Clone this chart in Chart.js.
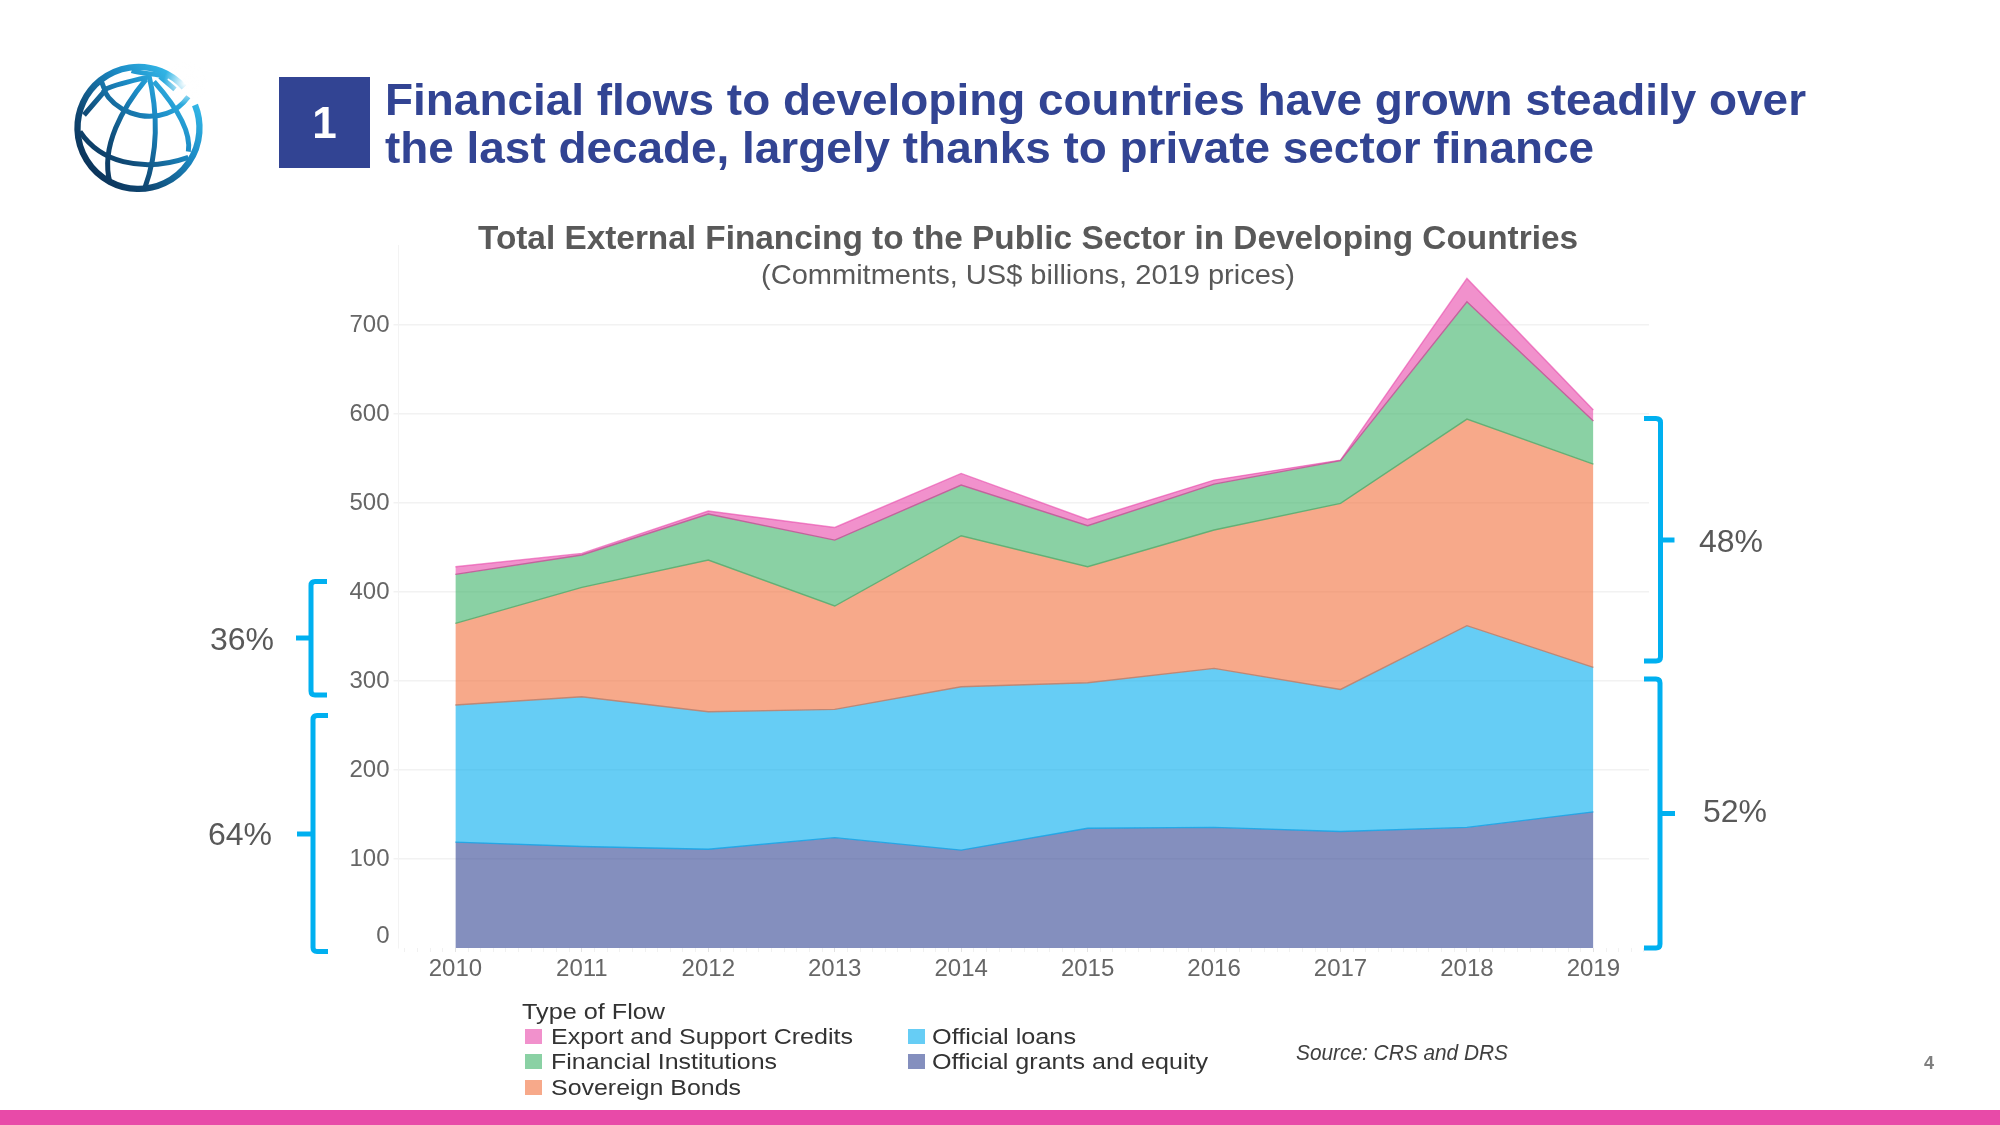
<!DOCTYPE html>
<html>
<head>
<meta charset="utf-8">
<title>Total External Financing to the Public Sector in Developing Countries</title>
<script src="https://cdn.jsdelivr.net/npm/chart.js@4"></script>
<style>
html,body{margin:0;padding:0;background:#fff;width:2000px;height:1125px;overflow:hidden;font-family:"Liberation Sans",Arial,sans-serif}
#stage{position:relative;width:2000px;height:1125px;overflow:hidden}
canvas{position:absolute;left:0;top:0}
.t{position:absolute;white-space:nowrap;line-height:1}
.sw{position:absolute}
svg{position:absolute;left:0;top:0}
#bar{position:absolute;left:0;top:1109.5px;width:2000px;height:15.5px;background:#E84AA8}
#box{position:absolute;left:279px;top:77px;width:91px;height:91px;background:#324493}
</style>
</head>
<body>
<div id="stage">
<canvas id="c" width="2000" height="1125"></canvas>
<div id="bar"></div>
<div id="box"></div>
<svg width="2000" height="1125" viewBox="0 0 2000 1125" fill="none">
  <defs>
    <linearGradient id="g" gradientUnits="userSpaceOnUse" x1="70" y1="390" x2="410" y2="90">
      <stop offset="0" stop-color="#0a2c50"/>
      <stop offset="0.3" stop-color="#0f4a76"/>
      <stop offset="0.65" stop-color="#1c8cc6"/>
      <stop offset="1" stop-color="#3cc8f4"/>
    </linearGradient>
    <radialGradient id="h" gradientUnits="userSpaceOnUse" cx="375" cy="100" r="65">
      <stop offset="0" stop-color="#fff" stop-opacity="1"/>
      <stop offset="1" stop-color="#fff" stop-opacity="0"/>
    </radialGradient>
  </defs>
  <g transform="translate(60,50) scale(0.33333)">
    <g stroke="url(#g)" stroke-width="15" stroke-linecap="butt">
      <path d="M 372 112 A 183 183 0 1 0 405 165" stroke-width="19"/>
      <path d="M 265 68 C 290 170 300 290 255 412"/>
      <path d="M 258 88 C 190 170 120 290 150 398"/>
      <path d="M 282 95 C 340 160 395 240 385 305"/>
      <path d="M 130 118 C 165 185 250 215 320 190 C 350 180 370 160 385 140"/>
      <path d="M 60 245 C 90 290 130 320 190 335 C 250 350 320 345 385 322"/>
      <path d="M 135 118 C 170 102 215 92 262 82"/>
      <path d="M 215 62 C 245 72 290 70 325 82"/>
      <path d="M 72 195 L 135 122 L 122 88"/>
      <path d="M 300 80 L 345 118"/>
    </g>
    <circle cx="375" cy="100" r="65" fill="url(#h)"/>
  </g>
  <g stroke="#00B0F0" stroke-width="5" stroke-linejoin="round">
    <path d="M 327 581.5 H 315 Q 311 581.5 311 585.5 V 691 Q 311 695 315 695 H 327"/>
    <path d="M 296 638 H 311"/>
    <path d="M 328 715.5 H 317 Q 313 715.5 313 719.5 V 947.5 Q 313 951.5 317 951.5 H 328"/>
    <path d="M 297 834 H 313"/>
    <path d="M 1644 418.5 H 1656 Q 1660.5 418.5 1660.5 422.5 V 657 Q 1660.5 661 1656 661 H 1644"/>
    <path d="M 1660.5 540 H 1674.5"/>
    <path d="M 1644 679 H 1656 Q 1660 679 1660 683 V 944 Q 1660 948 1656 948 H 1644"/>
    <path d="M 1660 813.5 H 1675"/>
  </g>
</svg>
</div>
<script>
const years = [2010, 2011, 2012, 2013, 2014, 2015, 2016, 2017, 2018, 2019];
const yTicks = [0, 100, 200, 300, 400, 500, 600, 700];
const grants = [119, 114, 111, 124, 110, 134.5, 135.5, 131, 135.5, 153];
const loans = [154, 168.4, 154.5, 144.2, 183.6, 163.5, 178.7, 159.6, 226.7, 162.4];
const sovereign = [91.8, 122.8, 170.5, 116.1, 169.7, 130.4, 155.5, 209, 232.2, 228.4];
const financial = [55, 36.4, 51.6, 74.1, 56.9, 46.1, 51.6, 48, 131.8, 48.3];
const exportCredits = [8.6, 1.8, 3.4, 14.2, 13.1, 7.1, 4.5, 0.7, 26.2, 12.4];

const seriesNames = ['Official grants and equity', 'Official loans', 'Sovereign Bonds', 'Financial Institutions', 'Export and Support Credits'];
const seriesValues = [grants, loans, sovereign, financial, exportCredits];
const seriesColors = ['50,68,147', '0,172,238', '242,112,60', '60,178,103', '232,72,170'];
const edgeColors = ['rgba(20,165,232,0.85)', 'rgba(190,130,110,0.9)', 'rgba(95,175,115,0.95)', 'rgba(195,95,155,0.95)', 'rgba(232,72,170,0.6)'];

const datasets = seriesNames.map((name, i) => ({
  label: name,
  data: years.map((yr, k) => ({ x: yr, y: seriesValues[i][k] })),
  fill: i === 0 ? 'origin' : '-1',
  backgroundColor: 'rgba(' + seriesColors[i] + ',0.6)',
  borderColor: edgeColors[i],
  borderWidth: 1.4,
  pointRadius: 0,
  tension: 0
}));

const xMin = 2009.55, xMax = 2019.44;
const isYear = v => Math.abs(v - Math.round(v)) < 1e-6;

new Chart(document.getElementById('c'), {
  type: 'line',
  data: { datasets },
  options: {
    responsive: false,
    animation: false,
    devicePixelRatio: 1,
    layout: { padding: { left: 298.5, right: 351, top: 245, bottom: 137 } },
    plugins: { legend: { display: false }, title: { display: false }, tooltip: { enabled: false } },
    scales: {
      x: {
        type: 'linear', min: xMin, max: xMax,
        afterBuildTicks(s) {
          const t = [];
          for (let i = Math.ceil(xMin * 10); i <= Math.floor(xMax * 10); i++) t.push({ value: i / 10 });
          s.ticks = t;
        },
        afterFit(s) { s.height = 40; },
        border: { display: false },
        grid: {
          drawOnChartArea: false, drawTicks: true, tickLength: 4,
          tickColor: c => isYear(c.tick.value) ? '#e2e2e2' : '#f1f1f1'
        },
        ticks: {
          autoSkip: false, maxRotation: 0, minRotation: 0, padding: 3,
          color: '#666666', font: { family: '"Liberation Sans"', size: 24 },
          callback: v => isYear(v) ? String(Math.round(v)) : ''
        }
      },
      y: {
        type: 'linear', min: 0, max: 790, stacked: true,
        afterBuildTicks(s) { s.ticks = yTicks.map(v => ({ value: v })); },
        afterFit(s) { s.width = 100; },
        border: { display: true, color: '#f3f3f3', width: 1 },
        grid: {
          color: c => c.tick && c.tick.value === 0 ? 'rgba(0,0,0,0)' : '#f2f2f2',
          lineWidth: 1.5, tickLength: 5
        },
        ticks: {
          padding: 4, color: '#666666', font: { family: '"Liberation Sans"', size: 24, lineHeight: 1.0 },
          callback: v => v === 0 ? ['0', ''] : String(v)
        }
      }
    }
  }
});

const stage = document.getElementById('stage');
function put(txt, x, y, o) {
  const d = document.createElement('div');
  d.className = 't';
  d.textContent = txt;
  d.style.fontSize = o.size + 'px';
  d.style.color = o.color;
  if (o.bold) d.style.fontWeight = 'bold';
  if (o.italic) d.style.fontStyle = 'italic';
  stage.appendChild(d);
  const r = d.getBoundingClientRect();
  const sx = o.w ? o.w / r.width : 1;
  const w = r.width * sx;
  const left = o.align === 'center' ? x - w / 2 : x;
  d.style.left = left + 'px';
  d.style.top = (y - r.height / 2) + 'px';
  d.style.transformOrigin = 'left center';
  d.style.transform = 'scaleX(' + sx + ')';
}
const navy = '#324493', grey = '#595959', dark = '#333333';
put('Financial flows to developing countries have grown steadily over', 385, 99.5, { size: 44, bold: true, color: navy, w: 1421 });
put('the last decade, largely thanks to private sector finance', 385, 148, { size: 44, bold: true, color: navy, w: 1209 });
put('1', 324.5, 123, { size: 44, bold: true, color: '#fff', align: 'center' });
put('Total External Financing to the Public Sector in Developing Countries', 1028, 237, { size: 33, bold: true, color: grey, align: 'center', w: 1100 });
put('(Commitments, US$ billions, 2019 prices)', 1028, 275, { size: 28, color: grey, align: 'center', w: 534 });
put('36%', 242, 639, { size: 32, color: grey, align: 'center' });
put('64%', 240, 834, { size: 32, color: grey, align: 'center' });
put('48%', 1731, 541, { size: 32, color: grey, align: 'center' });
put('52%', 1735, 811, { size: 32, color: grey, align: 'center' });

put('Type of Flow', 521.5, 1012, { size: 22, color: dark, w: 143 });
const legendRows = [
  [4, 525, 1036.5, 550.5, 302],
  [3, 525, 1061.5, 550.5, 226],
  [2, 525, 1087.5, 550.5, 190],
  [1, 908, 1036.5, 932, 144],
  [0, 908, 1061.5, 932, 276]
];
legendRows.forEach(([i, sx, cy, tx, w]) => {
  const s = document.createElement('div');
  s.className = 'sw';
  s.style.cssText = 'left:' + sx + 'px;top:' + (cy - 7.5) + 'px;width:17px;height:15px;background:rgba(' + seriesColors[i] + ',0.6)';
  stage.appendChild(s);
  put(seriesNames[i], tx, cy, { size: 22, color: dark, w });
});
put('Source: CRS and DRS', 1296, 1053, { size: 22, italic: true, color: '#404040', w: 212 });
put('4', 1929, 1063, { size: 18, bold: true, color: '#7f7f7f', align: 'center' });
</script>
</body>
</html>
